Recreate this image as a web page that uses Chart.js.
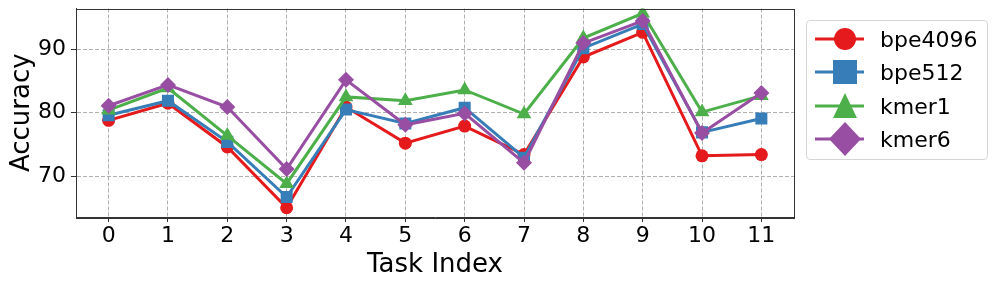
<!DOCTYPE html>
<html>
<head>
<meta charset="utf-8">
<script src="https://cdn.jsdelivr.net/npm/chart.js@4"></script>
<style>
  html, body { margin: 0; padding: 0; background: #fff; }
  #wrap { position: relative; width: 997px; height: 287px; }
  #legend {
    position: absolute; left: 806px; top: 20px; width: 180px; height: 138px;
    border: 1px solid #d5d5d5; border-radius: 4px; background: #fff;
    font-family: "DejaVu Sans", sans-serif; font-size: 22px; color: #000;
  }
  .row { position: absolute; left: 0; height: 34px; display: flex; align-items: center; }
  .row svg { margin-left: 6px; }
  .row span { margin-left: 15px; }
</style>
</head>
<body>
<div id="wrap">
  <canvas id="accChart" width="997" height="287"></canvas>
  <div id="legend"></div>
</div>
<script>
var tasks = [0, 1, 2, 3, 4, 5, 6, 7, 8, 9, 10, 11];
var bpe4096 = [78.8, 81.5, 74.6, 65.0, 80.9, 75.2, 77.9, 73.4, 88.8, 92.7, 73.2, 73.4];
var bpe512  = [79.6, 81.9, 75.4, 66.7, 80.5, 78.3, 80.8, 72.9, 90.2, 94.0, 76.9, 79.1];
var kmer1   = [80.4, 83.9, 76.4, 68.8, 82.5, 81.9, 83.6, 79.8, 91.8, 95.7, 80.1, 82.7];
var kmer6   = [81.1, 84.4, 80.9, 71.1, 85.2, 78.1, 79.9, 72.1, 91.0, 94.5, 76.8, 83.1];
var yTicks = [70, 80, 90];

var series = [
  { name: 'bpe4096', data: bpe4096, color: '#e41a1c', style: 'circle', r: 6.5 },
  { name: 'bpe512', data: bpe512, color: '#377eb8', style: 'rect', r: 8.5 },
  { name: 'kmer1', data: kmer1, color: '#4daf4a', style: 'triangle', r: 8.5 },
  { name: 'kmer6', data: kmer6, color: '#984ea3', style: 'rectRot', r: 8 }
];

var font = "'DejaVu Sans', sans-serif";

// matplotlib style closed frame round the plot
var frame = {
  id: 'frame',
  afterDraw: function (c) {
    var a = c.chartArea, ctx = c.ctx;
    ctx.save();
    ctx.setLineDash([]);
    ctx.strokeStyle = '#333';
    ctx.lineWidth = 1;
    ctx.strokeRect(Math.round(a.left) + 0.5, Math.round(a.top) + 0.5,
      Math.round(a.right - a.left), Math.round(a.bottom - a.top));
    ctx.restore();
  }
};

var datasets = series.map(function (s, i) {
  return {
    label: s.name,
    data: s.data.map(function (v, j) { return { x: tasks[j], y: v }; }),
    borderColor: s.color,
    backgroundColor: s.color,
    borderWidth: 3,
    pointStyle: s.style,
    pointRadius: s.r,
    pointBorderWidth: 0,
    pointBackgroundColor: s.color,
    order: series.length - i
  };
});

new Chart(document.getElementById('accChart').getContext('2d'), {
  type: 'line',
  data: { datasets: datasets },
  options: {
    responsive: false,
    animation: false,
    layout: { padding: { left: 0, right: 203, top: 8, bottom: 0 } },
    plugins: { legend: { display: false }, tooltip: { enabled: false } },
    scales: {
      x: {
        type: 'linear', min: -0.55, max: 11.55,
        afterBuildTicks: function (s) { s.ticks = tasks.map(function (t) { return { value: t }; }); },
        afterFit: function (s) { s.height = 70; s.paddingLeft = 0; s.paddingRight = 0; },
        grid: { color: '#b0b0b0', tickLength: 5, tickColor: '#333', tickBorderDash: [] },
        border: { display: true, color: '#333', width: 1, dash: [4, 2] },
        ticks: { color: '#000', font: { family: font, size: 22 }, padding: 1, maxRotation: 0, autoSkip: false },
        title: { display: true, text: 'Task Index', color: '#000', font: { family: font, size: 26 }, padding: { top: 0, bottom: 6 } }
      },
      y: {
        min: 63.54, max: 96.46,
        afterBuildTicks: function (s) { s.ticks = yTicks.map(function (t) { return { value: t }; }); },
        afterFit: function (s) { s.width = 76; s.paddingTop = 0; s.paddingBottom = 0; },
        grid: { color: '#b0b0b0', tickLength: 5, tickColor: '#333', tickBorderDash: [] },
        border: { display: true, color: '#333', width: 1, dash: [4, 2] },
        ticks: { color: '#000', font: { family: font, size: 22 }, padding: 5 },
        title: { display: true, text: 'Accuracy', color: '#000', font: { family: font, size: 26 }, padding: { top: 7, bottom: 0 } }
      }
    }
  },
  plugins: [frame]
});

// legend with line + marker like the original
var legend = document.getElementById('legend');
var rowTops = [1, 34, 68, 101];
series.forEach(function (s, i) {
  var c = s.color, m;
  if (s.style === 'circle') m = '<circle cx="32" cy="17" r="11" fill="' + c + '"/>';
  else if (s.style === 'rect') m = '<rect x="20" y="5" width="24" height="24" fill="' + c + '"/>';
  else if (s.style === 'triangle') m = '<polygon points="32,4 44,29 20,29" fill="' + c + '"/>';
  else m = '<polygon points="32,0 48,17 32,34 16,17" fill="' + c + '"/>';
  var row = document.createElement('div');
  row.className = 'row';
  row.style.top = rowTops[i] + 'px';
  row.innerHTML = '<svg width="52" height="34"><line x1="2" y1="17" x2="51" y2="17" stroke="' + c +
    '" stroke-width="3"/>' + m + '</svg><span>' + s.name + '</span>';
  legend.appendChild(row);
});
</script>
</body>
</html>
